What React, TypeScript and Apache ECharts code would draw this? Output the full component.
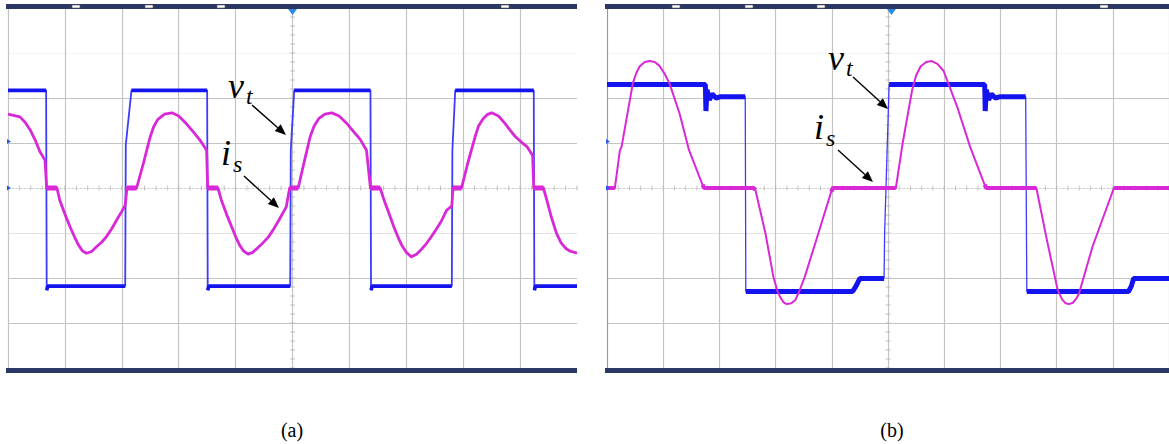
import React, { useEffect, useRef } from "react";
import * as echarts from "echarts";

// Time axis in screen divisions (-5..5), amplitude in vertical divisions (-4..4)
const timeRange = [-5, 5];
const ampRange = [-4, 4];

// Panel (a): terminal voltage v_t (square wave) and source current i_s
const vtA: number[][] = [
  [-5.0, 2.17], [-4.33, 2.17], [-4.32, -2.27], [-4.3, -2.18], [-2.94, -2.18], [-2.93, 0.96], [-2.83, 2.17],
  [-1.5, 2.17], [-1.49, -2.27], [-1.47, -2.18], [-0.04, -2.18], [-0.03, 0.84], [0.03, 2.17],
  [1.37, 2.17], [1.38, -2.27], [1.4, -2.18], [2.8, -2.18], [2.81, 0.84], [2.86, 2.17],
  [4.24, 2.17], [4.25, -2.27], [4.27, -2.18], [5.0, -2.18],
];
const isA: number[][] = [
  [-5.0, 1.64], [-4.79, 1.58], [-4.7, 1.46], [-4.61, 1.29], [-4.52, 1.06], [-4.44, 0.81], [-4.35, 0.62], [-4.32, 0.0], [-4.14, 0.0],
  [-4.09, -0.27], [-4.0, -0.58], [-3.91, -0.86], [-3.83, -1.09], [-3.76, -1.27], [-3.69, -1.4], [-3.62, -1.45], [-3.53, -1.41], [-3.44, -1.3], [-3.35, -1.2], [-3.27, -1.08], [-3.18, -0.91], [-3.09, -0.71], [-3.0, -0.52], [-2.94, -0.38],
  [-2.91, 0.0], [-2.74, 0.0], [-2.62, 0.55], [-2.5, 1.14], [-2.44, 1.36], [-2.37, 1.52], [-2.25, 1.64], [-2.12, 1.67], [-2.0, 1.6], [-1.86, 1.42], [-1.74, 1.24], [-1.63, 1.07], [-1.51, 0.84],
  [-1.49, 0.0], [-1.31, 0.0], [-1.25, -0.27], [-1.16, -0.58], [-1.07, -0.86], [-1.0, -1.08], [-0.93, -1.27], [-0.86, -1.4], [-0.78, -1.47], [-0.7, -1.43], [-0.61, -1.33], [-0.52, -1.22], [-0.43, -1.1], [-0.34, -0.93], [-0.25, -0.74], [-0.11, -0.42],
  [-0.05, 0.0], [0.1, 0.0], [0.2, 0.55], [0.31, 1.14], [0.38, 1.38], [0.46, 1.54], [0.57, 1.64], [0.69, 1.67], [0.82, 1.6], [0.95, 1.44], [1.07, 1.26], [1.19, 1.08], [1.3, 0.84],
  [1.37, 0.0], [1.54, 0.0], [1.61, -0.27], [1.7, -0.58], [1.78, -0.86], [1.85, -1.08], [1.92, -1.27], [2.0, -1.43], [2.09, -1.53], [2.18, -1.47], [2.26, -1.37], [2.35, -1.24], [2.43, -1.1], [2.52, -0.93], [2.61, -0.75], [2.71, -0.49],
  [2.8, -0.4], [2.82, 0.0], [2.97, 0.0], [3.08, 0.55], [3.21, 1.14], [3.27, 1.38], [3.35, 1.54], [3.42, 1.63], [3.5, 1.67], [3.62, 1.6], [3.73, 1.44], [3.82, 1.29], [3.91, 1.15], [4.02, 1.02], [4.12, 0.92], [4.22, 0.72],
  [4.24, 0.0], [4.41, 0.0], [4.47, -0.27], [4.55, -0.65], [4.64, -1.01], [4.72, -1.22], [4.81, -1.35], [4.89, -1.41], [4.96, -1.43], [5.0, -1.45],
];

// Panel (b)
const vtB: number[][] = [
  [-5.0, 2.3], [-3.25, 2.3], [-3.24, 1.71], [-3.22, 2.18], [-3.18, 1.96], [-3.13, 2.09], [-3.06, 2.0], [-2.97, 2.03],
  [-2.54, 2.03], [-2.53, -2.3], [-0.63, -2.3], [-0.57, -2.18], [-0.5, -2.01], [-0.07, -2.01], [-0.06, -1.0], [0.02, 2.3],
  [1.72, 2.3], [1.73, 1.71], [1.75, 2.18], [1.79, 1.96], [1.84, 2.09], [1.91, 2.0], [2.0, 2.03],
  [2.45, 2.03], [2.47, -2.3], [4.28, -2.3], [4.33, -2.18], [4.37, -2.01], [5.0, -2.01],
];
const isB: number[][] = [
  [-5.0, 0.0], [-4.86, 0.0], [-4.77, 0.84], [-4.74, 0.92], [-4.54, 2.33], [-4.48, 2.55], [-4.42, 2.7], [-4.33, 2.8], [-4.24, 2.82], [-4.15, 2.8],
  [-4.07, 2.72], [-3.98, 2.55], [-3.89, 2.33], [-3.71, 1.66], [-3.54, 0.84], [-3.3, 0.07], [-3.27, 0.0], [-2.39, 0.0], [-2.36, -0.04], [-2.18, -1.01],
  [-2.04, -1.97], [-1.97, -2.28], [-1.92, -2.42], [-1.86, -2.54], [-1.8, -2.58], [-1.72, -2.56], [-1.65, -2.49], [-1.58, -2.3], [-1.48, -1.97], [-1.24, -1.01], [-1.01, -0.08], [-0.98, 0.0],
  [0.14, 0.0], [0.26, 0.99], [0.43, 2.18], [0.5, 2.5], [0.58, 2.7], [0.68, 2.8], [0.78, 2.82], [0.88, 2.76], [0.99, 2.6], [1.23, 1.81], [1.46, 0.92], [1.72, 0.07],
  [1.75, 0.0], [2.64, 0.0], [2.84, -1.23], [3.02, -2.27], [3.1, -2.48], [3.16, -2.56], [3.22, -2.58], [3.29, -2.55], [3.35, -2.46], [3.4, -2.34], [3.64, -1.3], [4.02, 0.0], [5.0, 0.0],
];

const captions = ["(a)", "(b)"];

const BLUE = "#1414f0";
const BLUE_EDGE = "#3c3cff";
const MAGENTA = "#d828d8";
const GRID = "#c4c4c4";
const NAVY = "#2b3866";
const SERIF = "Times New Roman";

// keep only segments that satisfy test, break others with null
function segments(pts: number[][], keep: (a: number[], b: number[]) => boolean) {
  const out: any[] = [];
  let open = false;
  for (let i = 0; i < pts.length - 1; i++) {
    const a = pts[i], b = pts[i + 1];
    if (keep(a, b)) {
      if (!open) out.push(a);
      out.push(b);
      open = true;
    } else if (open) {
      out.push([(a[0] + b[0]) / 2, null]);
      open = false;
    }
  }
  return out;
}
const plateau = (a: number[], b: number[]) => Math.abs(b[1] - a[1]) < 0.9;
const flatZero = (a: number[], b: number[]) => Math.abs(a[1]) < 0.1 && Math.abs(b[1]) < 0.1;

function range(start: number, end: number, step: number) {
  const r: number[] = [];
  for (let v = start; v <= end + 1e-9; v += step) r.push(Math.round(v * 1000) / 1000);
  return r;
}

function arrow(x1: number, y1: number, x2: number, y2: number) {
  const dx = x2 - x1, dy = y2 - y1;
  const L = Math.hypot(dx, dy);
  const ux = dx / L, uy = dy / L;
  const hl = 11, hw = 4.5;
  const bx = x2 - ux * hl, by = y2 - uy * hl;
  return [
    { type: "line", shape: { x1, y1, x2: bx, y2: by }, style: { stroke: "#000", lineWidth: 1.4 }, z: 100 },
    {
      type: "polygon",
      shape: { points: [[x2, y2], [bx - uy * hw, by + ux * hw], [bx + uy * hw, by - ux * hw]] },
      style: { fill: "#000" },
      z: 100,
    },
  ];
}

function mathLabel(x: number, y: number, main: string, sub: string, subDx: number, subDy: number) {
  return [
    { type: "text", x, y, z: 100, style: { text: main, fontFamily: SERIF, fontSize: 36, fontStyle: "italic", fill: "#000", textVerticalAlign: "middle" } },
    { type: "text", x: x + subDx, y: y + subDy, z: 100, style: { text: sub, fontFamily: SERIF, fontSize: 24, fontStyle: "italic", fill: "#000", textVerticalAlign: "middle" } },
  ];
}

function panelDecor(left: number, right: number, center: number, marks: number[]) {
  const els: any[] = [
    { type: "rect", shape: { x: left - 2, y: 4, width: right - left + 2, height: 5 }, style: { fill: NAVY }, z: 50 },
    { type: "rect", shape: { x: left - 2, y: 368, width: right - left + 2, height: 5 }, style: { fill: NAVY }, z: 50 },
    { type: "polygon", shape: { points: [[center - 4.5, 9], [center + 4.5, 9], [center, 15]] }, style: { fill: "#2a8be0" }, z: 51 },
    { type: "polygon", shape: { points: [[left - 1, 139], [left + 3, 141.5], [left - 1, 144]] }, style: { fill: "#2a5ae0" }, z: 51 },
    { type: "polygon", shape: { points: [[left - 1, 185.5], [left + 3, 188], [left - 1, 190.5]] }, style: { fill: "#2a5ae0" }, z: 51 },
  ];
  marks.forEach((m) => {
    els.push({ type: "rect", shape: { x: m, y: 5, width: 8, height: 3 }, style: { fill: "#fff", stroke: "#555", lineWidth: 0.6 }, z: 52 });
  });
  return els;
}

const App: React.FC = () => {
  const ref = useRef<HTMLDivElement>(null);
  useEffect(() => {
    if (!ref.current) return;
    const chart = echarts.init(ref.current, undefined, { renderer: "svg" });
    const grids = [
      { left: 8, top: 8, width: 569, height: 360 },
      { left: 607, top: 8, width: 567, height: 360 },
    ];
    const yColors = [GRID, GRID, GRID, "#e2e2e2", "rgba(0,0,0,0)", GRID, GRID, "#f4f4f4", GRID];
    const xColorsA = [GRID, GRID, GRID, GRID, GRID, "rgba(0,0,0,0)", GRID, GRID, GRID, GRID, "rgba(0,0,0,0)"];
    const xColorsB = ["#9a9a9a", GRID, GRID, GRID, GRID, "rgba(0,0,0,0)", GRID, GRID, GRID, GRID, GRID];

    const xAxis = [0, 1].map((i) => ({
      type: "value",
      gridIndex: i,
      min: timeRange[0],
      max: timeRange[1],
      interval: 1,
      axisLabel: { show: false },
      axisTick: { show: false },
      axisLine: { show: true, onZero: true, lineStyle: { color: "#cdcdcd", type: [2, 2], width: 1 } },
      splitLine: { show: true, lineStyle: { color: i === 0 ? xColorsA : xColorsB, width: 1.2 } },
    }));
    const yAxis = [0, 1].map((i) => ({
      type: "value",
      gridIndex: i,
      min: ampRange[0],
      max: ampRange[1],
      interval: 1,
      axisLabel: { show: false },
      axisTick: { show: false },
      axisLine: { show: true, onZero: true, lineStyle: { color: GRID, width: 1.2 } },
      splitLine: { show: true, lineStyle: { color: yColors, width: 1.2 } },
    }));

    const hTicks = range(timeRange[0], timeRange[1], 0.2).map((x) => [x, 0]);
    const vTicks = range(ampRange[0], ampRange[1], 0.2).map((y) => [0, y]);

    const series: any[] = [];
    [0, 1].forEach((i) => {
      series.push(
        { type: "scatter", xAxisIndex: i, yAxisIndex: i, data: hTicks, symbol: "rect", symbolSize: [1, 5], itemStyle: { color: "#b4b4b4" }, silent: true, z: 1 },
        { type: "scatter", xAxisIndex: i, yAxisIndex: i, data: vTicks, symbol: "rect", symbolSize: [5, 1], itemStyle: { color: "#b4b4b4" }, silent: true, z: 1 },
      );
    });
    const traces = [
      { i: 0, vt: vtA, is: isA, vtW: 3.6, edgeW: 1.8, isW: 2.8, flatW: 4.8 },
      { i: 1, vt: vtB, is: isB, vtW: 5, edgeW: 1.3, isW: 2.0, flatW: 4.2 },
    ];
    traces.forEach((t) => {
      series.push(
        { type: "line", xAxisIndex: t.i, yAxisIndex: t.i, data: t.vt, showSymbol: false, lineStyle: { color: BLUE_EDGE, width: t.edgeW }, silent: true, z: 3 },
        { type: "line", xAxisIndex: t.i, yAxisIndex: t.i, data: segments(t.vt, plateau), showSymbol: false, connectNulls: false, lineStyle: { color: BLUE, width: t.vtW }, silent: true, z: 3 },
        { type: "line", xAxisIndex: t.i, yAxisIndex: t.i, data: t.is, showSymbol: false, lineStyle: { color: MAGENTA, width: t.isW, join: "round" }, silent: true, z: 4 },
        { type: "line", xAxisIndex: t.i, yAxisIndex: t.i, data: segments(t.is, flatZero), showSymbol: false, connectNulls: false, lineStyle: { color: MAGENTA, width: t.flatW }, silent: true, z: 4 },
      );
    });

    const graphic: any[] = [
      ...panelDecor(8, 577, 292.5, [72, 145, 217, 501]),
      ...panelDecor(607, 1169, 891.5, [672, 745, 817, 1100]),
      ...mathLabel(228, 86, "v", "t", 18, 10),
      ...mathLabel(221, 153, "i", "s", 12, 11),
      ...mathLabel(828, 58, "v", "t", 18, 10),
      ...mathLabel(814, 127, "i", "s", 12, 11),
      ...arrow(252, 105, 286, 135),
      ...arrow(244, 176, 279, 208),
      ...arrow(853, 77, 888, 109),
      ...arrow(838, 150, 873, 182),
      { type: "text", x: 292, y: 430, style: { text: captions[0], fontFamily: SERIF, fontSize: 20, fill: "#000", textAlign: "center", textVerticalAlign: "middle" } },
      { type: "text", x: 892, y: 430, style: { text: captions[1], fontFamily: SERIF, fontSize: 20, fill: "#000", textAlign: "center", textVerticalAlign: "middle" } },
    ];

    chart.setOption({
      animation: false,
      backgroundColor: "#ffffff",
      grid: grids,
      xAxis,
      yAxis,
      series,
      graphic,
    });
    return () => chart.dispose();
  }, []);
  return <div ref={ref} style={{ position: "absolute", left: 0, top: 0, width: 1169, height: 444 }} />;
};

export default App;
